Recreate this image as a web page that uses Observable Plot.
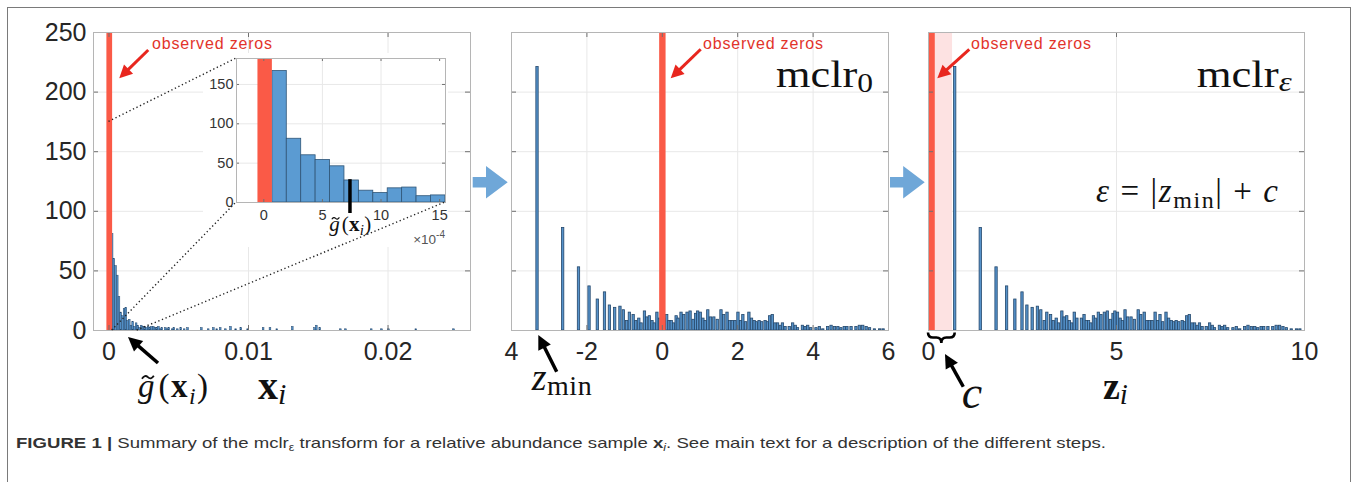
<!DOCTYPE html>
<html><head><meta charset="utf-8">
<script src="https://cdn.jsdelivr.net/npm/d3@7"></script>
<script src="https://cdn.jsdelivr.net/npm/@observablehq/plot@0.6"></script>
<style>
html,body{margin:0;padding:0;background:#fff;}
#fig{position:relative;width:1357px;height:482px;overflow:hidden;background:#fff;font-family:"Liberation Sans",Arial,sans-serif;}
#border{position:absolute;left:7px;top:7px;width:1344px;height:490px;border:1.5px solid #7a7a7a;box-sizing:border-box;}
svg text{white-space:pre;}
</style></head><body><div id="fig"><div id="border"></div></div>
<script>
// ================= DATA =================
const countTicks = [0, 50, 100, 150, 200, 250];
const gridCounts = [50, 100, 150, 200];
const xTicks1 = [0, 0.01, 0.02];
const xTicks2 = [-4, -2, 0, 2, 4, 6];
const xTickLabels2 = ["4", "-2", "0", "2", "4", "6"];
const xTicks3 = [0, 5, 10];
const insetTicksX = [0, 5, 10, 15];
const insetTicksY = [0, 50, 100, 150];

// panel 1 histogram of x_i (bin index k, counts); bin width 1.23e-4 starting at -0.5e-4
const binW = 1.23e-4, bin0 = -0.5e-4;
const zeroCount = 262;               // observed zeros (off the top of the axes)
const headBins   = [1, 2, 3, 4, 5, 6, 7, 8, 9, 10, 11, 12];
const headCounts = [167, 81, 60, 54, 46, 28, 15, 12, 18, 19, 8, 9];
const tailBins   = [13,14,15,16,17,18,19,20,21,22,23,24,25,26,27,28,29,30,31,
                    33,34,35,37,38,40,42,44,46,
                    54,58,61,63,65,68,71,74,77,81,
                    90,94,98,107,120,121,123,135,138,153,159,163,179,201];
const tailCounts = [4,7,3,6,4,2,4,3,3,2,3,2,3,3,2,2,3,1,2,
                    2,1,2,1,2,1,2,1,2,
                    2,1,2,1,2,1,3,1,2,1,
                    2,2,1,3,2,4,2,1,1,1,1,1,1,1];
const gMean = 7.35e-4;               // g~(x_i)

// panel 2 histogram of z_i = mclr_0 (bin centres, counts)
const zVals = [-3.31,-2.63,-2.21,-1.93,-1.71,-1.52,-1.39,-1.25,-1.11,-1.02,-0.93,-0.86,-0.76,-0.69,-0.61,-0.55,-0.46,-0.40,-0.33,-0.26,-0.20,-0.13,-0.06,0.06,0.13,0.19,0.25,0.31,0.38,0.43,0.51,0.58,0.67,0.75,0.83,0.90,0.95,1.02,1.09,1.15,1.22,1.29,1.38,1.47,1.57,1.64,1.73,1.80,1.87,1.94,2.02,2.09,2.15,2.22,2.31,2.38,2.45,2.51,2.58,2.65,2.74,2.80,2.86,2.93,3.00,3.07,3.14,3.20,3.27,3.38,3.47,3.54,3.60,3.73,3.80,3.87,3.95,4.09,4.18,4.27,4.40,4.49,4.58,4.67,4.75,4.84,4.91,5.02,5.15,5.24,5.33,5.42,5.51,5.64,5.78,5.87];
const zCounts = [221,86,53,37,26,32,21,19,20,17,8,15,13,8,10,6,16,11,12,8,6,15,10,10,13,8,8,6,12,10,15,13,15,16,9,14,16,15,10,8,17,11,11,9,17,13,15,8,8,8,15,8,13,7,15,10,8,7,8,7,8,7,12,13,6,6,4,6,3,3,6,4,2,4,3,4,2,2,3,1,3,4,3,3,2,3,3,3,3,4,4,3,2,1,1,1];
const zBinW = 0.062;
const zeroZ = [-0.07, 0.10];          // zeros bar in mclr_0
const cShift = 0.71;                  // c

// ================= STYLE =================
const RED = "#fa5a47", REDTXT = "#e2342b", BFILL = "#5592ca", BEDGE = "#24476b";
const GRID = "#e8e8e8", FRAME = "#b5b5b5", TICK = "#707070", LABEL = "#262626";
const SANS = "'Liberation Sans', Arial, sans-serif", SERIF = "'Liberation Serif', 'Times New Roman', serif";
const NARROW = "'Liberation Sans Narrow', 'Liberation Sans', Arial, sans-serif";

const fig = document.getElementById("fig");

function innerTicks(xd, yd, xt, yt, fw, fh, len) {
  const dx = (xd[1] - xd[0]) * len / fw, dy = (yd[1] - yd[0]) * len / fh;
  const o = {stroke: TICK, strokeWidth: 1};
  return [
    Plot.ruleY(yt, {...o, x1: xd[0], x2: xd[0] + dx}),
    Plot.ruleY(yt, {...o, x1: xd[1] - dx, x2: xd[1]}),
    Plot.ruleX(xt, {...o, y1: yd[0], y2: yd[0] + dy}),
    Plot.ruleX(xt, {...o, y1: yd[1] - dy, y2: yd[1]})
  ];
}
function place(svg, left, top) {
  svg.style.position = "absolute"; svg.style.left = left + "px"; svg.style.top = top + "px";
  svg.style.overflow = "visible";
  fig.appendChild(svg);
}

const H = 415, MT = 32, MB = 85, FH = H - MT - MB;
const yd = [0, 250];

// ---------- panel 1 ----------
const hist1 = headBins.map((k, i) => ({x1: bin0 + k * binW, x2: bin0 + (k + 1) * binW, n: headCounts[i]}))
  .concat(tailBins.map((k, i) => ({x1: bin0 + k * binW, x2: bin0 + (k + 1) * binW, n: tailCounts[i]})));
const xd1 = [-0.00111, 0.02591];
const L1 = 0, W1 = 480, ML1 = 93, MR1 = 10, FW1 = W1 - ML1 - MR1;
const p1 = Plot.plot({
  width: W1, height: H, marginLeft: ML1, marginRight: MR1, marginTop: MT, marginBottom: MB,
  x: {domain: xd1}, y: {domain: yd},
  style: {background: "transparent", fontFamily: SANS},
  marks: [
    Plot.ruleX([0.01, 0.02], {stroke: GRID}),
    Plot.ruleY(gridCounts, {stroke: GRID}),
    Plot.rect(hist1, {x1: "x1", x2: "x2", y1: 0, y2: "n", fill: BFILL, stroke: BEDGE, strokeWidth: 0.5}),
    Plot.rect([{x1: -1.5e-4, x2: 2.6e-4, n: zeroCount}], {x1: "x1", x2: "x2", y1: 0, y2: "n", fill: RED, clip: true}),
    ...innerTicks(xd1, yd, xTicks1, countTicks, FW1, FH, 5),
    Plot.frame({stroke: FRAME}),
    Plot.axisX({ticks: xTicks1, tickSize: 0, tickPadding: 12, fontSize: 25, color: LABEL, label: null, tickFormat: d => String(d)}),
    Plot.axisY({ticks: countTicks, tickSize: 0, tickPadding: 7, fontSize: 25, color: LABEL, label: null})
  ]
});
place(p1, L1, 0);

// ---------- panel 2 ----------
const hist2 = zVals.map((z, i) => ({x1: z - zBinW / 2, x2: z + zBinW / 2, n: zCounts[i]}));
const xd2 = [-4, 6];
const L2 = 480, W2 = 420, ML2 = 31, MR2 = 12, FW2 = W2 - ML2 - MR2;
const lab2 = new Map(xTicks2.map((t, i) => [t, xTickLabels2[i]]));
const p2 = Plot.plot({
  width: W2, height: H, marginLeft: ML2, marginRight: MR2, marginTop: MT, marginBottom: MB,
  x: {domain: xd2}, y: {domain: yd, axis: null},
  style: {background: "transparent", fontFamily: SANS},
  marks: [
    Plot.ruleX([-2, 0, 2, 4], {stroke: GRID}),
    Plot.ruleY(gridCounts, {stroke: GRID}),
    Plot.rect(hist2, {x1: "x1", x2: "x2", y1: 0, y2: "n", fill: BFILL, stroke: BEDGE, strokeWidth: 0.8}),
    Plot.rect([{x1: zeroZ[0], x2: zeroZ[1], n: zeroCount}], {x1: "x1", x2: "x2", y1: 0, y2: "n", fill: RED, clip: true}),
    ...innerTicks(xd2, yd, xTicks2, countTicks, FW2, FH, 5),
    Plot.frame({stroke: FRAME}),
    Plot.axisX({ticks: xTicks2, tickSize: 0, tickPadding: 12, fontSize: 25, color: LABEL, label: null, tickFormat: d => lab2.get(d)})
  ]
});
place(p2, L2, 0);

// ---------- panel 3 ----------
const zMin = d3.min(zVals);
const eps = Math.abs(zMin) + cShift;
const hist3 = zVals.map((z, i) => ({x1: z + eps - zBinW / 2, x2: z + eps + zBinW / 2, n: zCounts[i]}));
const xd3 = [0, 10];
const L3 = 900, W3 = 457, ML3 = 28, MR3 = 53, FW3 = W3 - ML3 - MR3;
const p3 = Plot.plot({
  width: W3, height: H, marginLeft: ML3, marginRight: MR3, marginTop: MT, marginBottom: MB,
  x: {domain: xd3}, y: {domain: yd, axis: null},
  style: {background: "transparent", fontFamily: SANS},
  marks: [
    Plot.ruleX([5], {stroke: GRID}),
    Plot.ruleY(gridCounts, {stroke: GRID}),
    Plot.rect([{x1: 0, x2: cShift - 0.07, n: zeroCount}], {x1: "x1", x2: "x2", y1: 0, y2: "n", fill: "#fde2e2", clip: true}),
    Plot.rect(hist3, {x1: "x1", x2: "x2", y1: 0, y2: "n", fill: BFILL, stroke: BEDGE, strokeWidth: 0.8}),
    Plot.rect([{x1: 0, x2: zeroZ[1] + 0.08, n: zeroCount}], {x1: "x1", x2: "x2", y1: 0, y2: "n", fill: RED, clip: true}),
    ...innerTicks(xd3, yd, xTicks3, countTicks, FW3, FH, 5),
    Plot.frame({stroke: FRAME}),
    Plot.axisX({ticks: xTicks3, tickSize: 0, tickPadding: 12, fontSize: 25, color: LABEL, label: null, tickFormat: d => String(d)})
  ]
});
place(p3, L3, 0);

// ---------- inset ----------
const histI = headBins.map((k, i) => ({x1: (bin0 + k * binW) * 1e4, x2: (bin0 + (k + 1) * binW) * 1e4, n: headCounts[i]}));
const xdI = [-2.33, 15.5], ydI = [0, 183];
const LI = 203, TI = 53, WI = 245, HI = 194, MLI = 33, MRI = 3, MTI = 5, MBI = 45;
const pI = Plot.plot({
  width: WI, height: HI, marginLeft: MLI, marginRight: MRI, marginTop: MTI, marginBottom: MBI,
  x: {domain: xdI}, y: {domain: ydI},
  style: {background: "#fff", fontFamily: SANS},
  marks: [
    Plot.ruleX([5, 10], {stroke: GRID}),
    Plot.ruleY([50, 100, 150], {stroke: GRID}),
    Plot.rect(histI, {x1: "x1", x2: "x2", y1: 0, y2: "n", fill: "#5b9bd2", stroke: "#2f5577", strokeWidth: 0.8}),
    Plot.rect([{x1: bin0 * 1e4, x2: (bin0 + binW) * 1e4, n: zeroCount}], {x1: "x1", x2: "x2", y1: 0, y2: "n", fill: RED, clip: true}),
    ...innerTicks(xdI, ydI, insetTicksX, insetTicksY, WI - MLI - MRI, HI - MTI - MBI, 3),
    Plot.frame({stroke: FRAME}),
    Plot.ruleX([gMean * 1e4], {y1: -14, y2: 29, stroke: "#000", strokeWidth: 3.5}),
    Plot.axisX({ticks: insetTicksX, tickSize: 0, tickPadding: 7, fontSize: 14.5, color: "#333", label: null, tickFormat: d => String(d)}),
    Plot.axisY({ticks: insetTicksY, tickSize: 0, tickPadding: 3, fontSize: 14.5, color: "#333", label: null})
  ]
});
place(pI, LI, TI);

// ================= OVERLAY ANNOTATIONS =================
const ov = d3.select(fig).append("svg")
  .attr("width", 1357).attr("height", 482)
  .style("position", "absolute").style("left", "0px").style("top", "0px").style("pointer-events", "none");

function P(plot, left, top, x, y) {
  return [left + plot.scale("x").apply(x), top + plot.scale("y").apply(y)];
}
const P1 = (x, y) => P(p1, L1, 0, x, y), P2 = (x, y) => P(p2, L2, 0, x, y),
      P3 = (x, y) => P(p3, L3, 0, x, y), PI = (x, y) => P(pI, LI, TI, x, y);

function arrow([x1, y1], [x2, y2], color, w, hl, hw) {
  const dx = x2 - x1, dy = y2 - y1, L = Math.hypot(dx, dy), ux = dx / L, uy = dy / L;
  const bx = x2 - ux * hl, by = y2 - uy * hl;
  ov.append("line").attr("x1", x1).attr("y1", y1).attr("x2", bx + ux * 2).attr("y2", by + uy * 2)
    .attr("stroke", color).attr("stroke-width", w);
  ov.append("path").attr("d", `M${x2},${y2}L${bx - uy * hw},${by + ux * hw}L${bx + uy * hw},${by - ux * hw}Z`).attr("fill", color);
}
function mtext([x, y], parts, opt = {}) {
  const t = ov.append("text").attr("x", x).attr("y", y)
    .style("font-family", opt.family || SERIF).attr("font-size", opt.size || 30).attr("fill", opt.fill || "#111");
  if (opt.anchor) t.attr("text-anchor", opt.anchor);
  if (opt.len) t.attr("textLength", opt.len).attr("lengthAdjust", opt.adjust || "spacing");
  for (const p of parts) {
    const s = t.append("tspan").text(p.t);
    if (p.size) s.attr("font-size", p.size);
    if (p.it) s.attr("font-style", "italic");
    if (p.b) s.attr("font-weight", "bold");
    if (p.dy) s.attr("dy", p.dy);
    if (p.dx) s.attr("dx", p.dx);
    if (p.fam) s.style("font-family", p.fam);
  }
  return t;
}

// dotted zoom lines (main panel -> inset frame corners)
const dotted = [
  [P1(0, 175), PI(xdI[0], ydI[1])],
  [P1(0.00023, 0), PI(xdI[0], 0)],
  [P1(0.00202, 0), PI(xdI[1], 0)]
];
for (const [[a, b], [c, d]] of dotted)
  ov.append("line").attr("x1", a).attr("y1", b).attr("x2", c).attr("y2", d)
    .attr("stroke", "#222").attr("stroke-width", 1.4).attr("stroke-dasharray", "1.3 2.6");

// "observed zeros" labels and red arrows
const zerosNotes = [
  {f: P1, tx: 0.00312, ty: 235.7, a: [0.00285, 234.9], b: [0.00077, 211.2]},
  {f: P2, tx: 1.093, ty: 235.7, a: [1.032, 235.5], b: [0.236, 211.2]},
  {f: P3, tx: 1.144, ty: 235.7, a: [1.098, 235.5], b: [0.247, 211.2]}
];
for (const n of zerosNotes) {
  mtext(n.f(n.tx, n.ty), [{t: "observed zeros"}], {family: SANS, size: 16, fill: REDTXT, len: 120});
  arrow(n.f(...n.a), n.f(...n.b), "#e8261e", 3, 13, 6.5);
}

// panel titles (glyphs stretched to the wide math-font look)
mtext(P2(3.029, 204.0), [{t: "mclr"}, {t: "0", size: 27, dy: 5}], {size: 38, len: 97, adjust: "spacingAndGlyphs"});
mtext(P3(7.146, 204.0), [{t: "mclr"}, {t: "ε", size: 28, it: true, dy: 4}], {size: 38, len: 95, adjust: "spacingAndGlyphs"});
mtext(P3(4.468, 107.4), [
  {t: "ε", it: true}, {t: " = |"}, {t: "z", it: true}, {t: "min", size: 24, dy: 6}, {t: "| + ", dy: -6}, {t: "c", it: true}
], {size: 33, len: 182});

// g~(x_i) label: the tilde is drawn as a small wave over the g
function gTilde([x, y], size, len) {
  const t = mtext([x, y], [{t: "g", it: true}, {t: "(", dx: size * 0.08}, {t: "x", b: true}, {t: "i", it: true, size: size * 0.72, dy: size * 0.2}, {t: ")", dy: -size * 0.2}], {size, len});
  const cx = x + size * 0.3, cy = y - size * 0.6, w = size * 0.36, a = size * 0.045;
  ov.append("path").attr("d", `M${cx - w / 2},${cy + a} Q${cx - w / 4},${cy - 2 * a} ${cx},${cy} T${cx + w / 2},${cy - a}`)
    .attr("fill", "none").attr("stroke", "#111").attr("stroke-width", size * 0.055);
  return t;
}

// panel 1 labels below axis
arrow(P1(0.003548, -27.7), P1(0.001398, -5.9), "#000", 3.5, 14, 7);
gTilde(P1(0.002114, -56.2), 33, 70);
mtext(P1(0.010715, -57.5), [{t: "x", b: true}, {t: "i", it: true, size: 30, dy: 5}], {size: 40});

// panel 2 labels
arrow(P2(-2.788, -35), P2(-3.276, -4.2), "#000", 3.5, 14, 7);
mtext(P2(-3.451, -50.3), [{t: "z", it: true}, {t: "min", size: 28, dy: 5}], {size: 38, len: 60});

// panel 3 labels
{
  const [a, y0] = P3(0, 0), [b] = P3(cShift, 0);
  const top = y0 + 2.5, mid = y0 + 7.5, bot = y0 + 13, m = (a + b) / 2, q = 5;
  ov.append("path").attr("d",
    `M${a},${top} Q${a},${mid} ${a + q},${mid} L${m - q},${mid} Q${m},${mid} ${m},${bot} Q${m},${mid} ${m + q},${mid} L${b - q},${mid} Q${b},${mid} ${b},${top}`)
    .attr("fill", "none").attr("stroke", "#000").attr("stroke-width", 2.6);
}
arrow(P3(0.939, -47.6), P3(0.452, -20.1), "#000", 3.5, 14, 7);
mtext(P3(0.896, -65.4), [{t: "c", it: true}], {size: 46});
mtext(P3(4.654, -57.5), [{t: "z", b: true}, {t: "i", it: true, size: 29, dy: 5}], {size: 38});

// inset labels
gTilde(PI(5.63, -36.8), 21, 42);
mtext(PI(xdI[1], -53.4), [{t: "×10"}, {t: "-4", size: 10, dy: -6}], {family: SANS, size: 13.5, fill: "#555", anchor: "end"});

// blue block arrows between panels
function blockArrow(x0, x1, yc) {
  const shaftEnd = x0 + (x1 - x0) * 0.38;
  ov.append("path").attr("d",
    `M${x0},${yc - 5.3} L${shaftEnd},${yc - 5.3} L${shaftEnd},${yc - 16.3} L${x1},${yc} L${shaftEnd},${yc + 16.3} L${shaftEnd},${yc + 5.3} L${x0},${yc + 5.3} Z`)
    .attr("fill", "#6fa7d8");
}
const yMid = P1(0, 124)[1];
blockArrow(L1 + p1.scale("x").range[1] + 2.7, L2 + p2.scale("x").range[0] - 3.3, yMid);
blockArrow(L2 + p2.scale("x").range[1] + 2, L3 + p3.scale("x").range[0] - 3.3, yMid);

// caption
mtext([16, 448], [
  {t: "FIGURE 1 | ", b: true},
  {t: "Summary of the mclr"}, {t: "ε", size: 10, dy: 3}, {t: " transform for a relative abundance sample ", dy: -3},
  {t: "x", b: true}, {t: "i", it: true, size: 10, dy: 3}, {t: ". See main text for a description of the different steps.", dy: -3}
], {family: NARROW, size: 15, fill: "#333", len: 1090, adjust: "spacingAndGlyphs"});
</script></body></html>
